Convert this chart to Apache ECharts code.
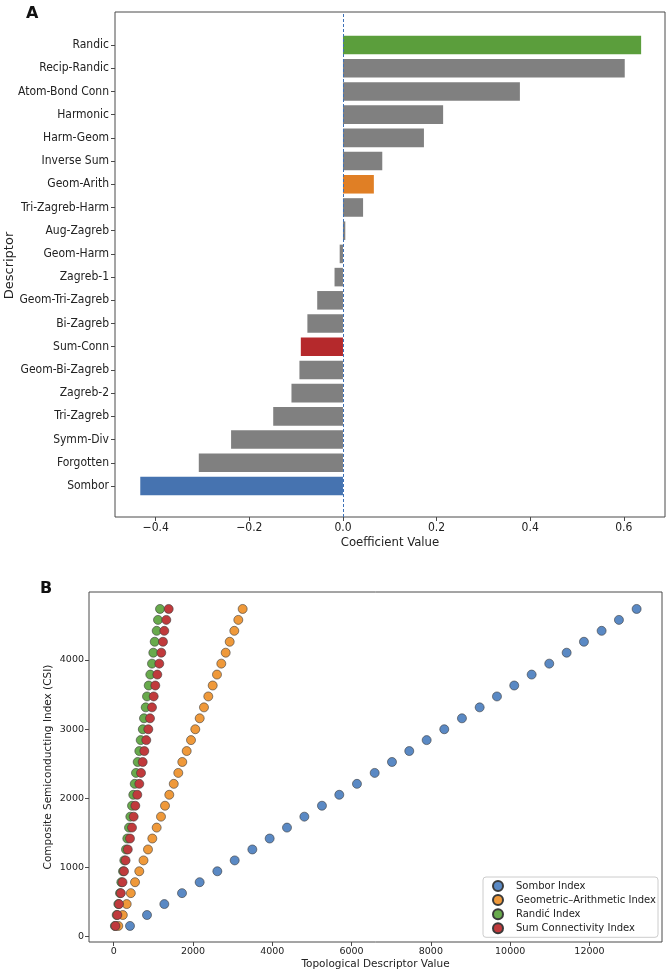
<!DOCTYPE html>
<html>
<head>
<meta charset="utf-8">
<script src="https://cdn.jsdelivr.net/npm/echarts@6/dist/echarts.min.js"></script>
<style>
html,body{margin:0;padding:0;background:#fff;}
#chart{width:667px;height:978px;}
</style>
</head>
<body>
<div id="chart"></div>
<script>
// ---------- Panel A data ----------
const descriptors = ['Randic','Recip-Randic','Atom-Bond Conn','Harmonic','Harm-Geom','Inverse Sum','Geom-Arith','Tri-Zagreb-Harm','Aug-Zagreb','Geom-Harm','Zagreb-1','Geom-Tri-Zagreb','Bi-Zagreb','Sum-Conn','Geom-Bi-Zagreb','Zagreb-2','Tri-Zagreb','Symm-Div','Forgotten','Sombor'];
const coefficients = [0.637,0.602,0.378,0.214,0.173,0.084,0.066,0.043,0.005,-0.007,-0.018,-0.055,-0.076,-0.090,-0.093,-0.110,-0.149,-0.239,-0.308,-0.433];
const coefTicks = [-0.4,-0.2,0.0,0.2,0.4,0.6];

// ---------- Panel B data ----------
const csiValues = [155,313,471,629,787,945,1102,1260,1418,1576,1734,1892,2050,2208,2366,2524,2682,2840,2997,3155,3313,3471,3629,3787,3945,4103,4261,4419,4577,4735];
const somborValues = [411,840,1277,1723,2168,2614,3052,3497,3934,4371,4809,5253,5690,6136,6583,7019,7455,7894,8338,8784,9231,9667,10103,10542,10986,11425,11861,12307,12744,13190];
const gaValues = [116,230,328,432,538,645,752,865,974,1084,1193,1294,1402,1515,1629,1730,1841,1950,2058,2169,2277,2386,2497,2605,2714,2825,2926,3042,3143,3253];
const randicValues = [30,75,116,159,192,235,267,310,343,386,419,462,494,530,562,605,646,681,734,764,807,840,883,923,966,999,1034,1084,1117,1168];
const sumConnValues = [45,92,134,180,222,260,300,355,411,462,504,545,595,646,689,731,772,822,873,916,966,1009,1049,1100,1150,1200,1243,1276,1327,1387];
const seriesNames = ['Sombor Index','Geometric\u2013Arithmetic Index','Randi\u0107 Index','Sum Connectivity Index'];
const xTicksB = [0,2000,4000,6000,8000,10000,12000];
const yTicksB = [0,1000,2000,3000,4000];

// ---------- styles ----------
const highlight = {'Randic':'#5b9e3c','Geom-Arith':'#e07f25','Sum-Conn':'#b5292c','Sombor':'#4673b0'};
const barGray = '#808080';
const scatterColors = ['#5a89c4','#ef993a','#68aa4c','#c03a3c'];
const axisColor = '#4a4a4a';
const textColor = '#222';
const fontA = '"DejaVu Sans Condensed","DejaVu Sans",sans-serif';
const fontB = '"DejaVu Sans",sans-serif';

const fmtCoef = v => (v < -1e-9 ? '\u2212' : '') + Math.abs(v).toFixed(1);
const fmtPlain = v => String(Math.round(v));

const chart = echarts.init(document.getElementById('chart'), null, {renderer:'canvas'});

const scatterData = [somborValues, gaValues, randicValues, sumConnValues];

const option = {
  animation:false,
  backgroundColor:'#fff',
  title:[
    {text:'A', left:21, top:1, textStyle:{fontFamily:fontB, fontWeight:'bold', fontSize:16, color:'#111'}},
    {text:'B', left:35, top:576, textStyle:{fontFamily:fontB, fontWeight:'bold', fontSize:16, color:'#111'}}
  ],
  grid:[
    {left:115, top:12, width:550, height:505, show:true, borderColor:axisColor, borderWidth:1, backgroundColor:'transparent', containLabel:false, outerBoundsMode:'none'},
    {left:115, top:33.4, width:550, height:464.2, show:false, containLabel:false, outerBoundsMode:'none'},
    {left:89, top:592, width:573, height:350, show:true, borderColor:axisColor, borderWidth:1, backgroundColor:'transparent', containLabel:false, outerBoundsMode:'none'}
  ],
  xAxis:[
    {gridIndex:0, type:'value', min:-0.487, max:0.688,
     name:'Coefficient Value', nameLocation:'middle', nameGap:19, nameMoveOverlap:false,
     nameTextStyle:{fontFamily:fontA, fontSize:13, color:textColor},
     axisLine:{show:false, onZero:false}, splitLine:{show:false},
     axisTick:{show:true, length:4, lineStyle:{color:axisColor}, customValues:coefTicks},
     axisLabel:{fontFamily:fontA, fontSize:12, color:textColor, margin:5, formatter:fmtCoef, customValues:coefTicks}},
    {gridIndex:1, type:'value', min:-0.487, max:0.688, show:false, axisLine:{onZero:false}},
    {gridIndex:2, type:'value', min:-623, max:13830,
     name:'Topological Descriptor Value', nameLocation:'middle', nameGap:17, nameMoveOverlap:false,
     nameTextStyle:{fontFamily:fontB, fontSize:10.5, color:textColor},
     axisLine:{show:false, onZero:false}, splitLine:{show:false},
     axisTick:{show:true, length:4, lineStyle:{color:axisColor}, customValues:xTicksB},
     axisLabel:{fontFamily:fontB, fontSize:9.5, color:textColor, margin:5, formatter:fmtPlain, customValues:xTicksB}}
  ],
  yAxis:[
    {gridIndex:0, type:'value', min:0, max:1, show:false, axisLine:{onZero:false}},
    {gridIndex:1, type:'category', inverse:true, data:descriptors,
     name:'Descriptor', nameLocation:'middle', nameGap:99, nameMoveOverlap:false,
     nameTextStyle:{fontFamily:fontB, fontSize:13, color:textColor},
     axisLine:{show:false, onZero:false}, splitLine:{show:false},
     axisTick:{show:true, length:4, alignWithLabel:true, lineStyle:{color:axisColor}},
     axisLabel:{fontFamily:fontA, fontSize:12, color:textColor, margin:6}},
    {gridIndex:2, type:'value', min:-77, max:4980,
     name:'Composite Semiconducting Index (CSI)', nameLocation:'middle', nameGap:35, nameMoveOverlap:false,
     nameTextStyle:{fontFamily:fontB, fontSize:10.5, color:textColor},
     axisLine:{show:false, onZero:false}, splitLine:{show:false},
     axisTick:{show:true, length:4, lineStyle:{color:axisColor}, customValues:yTicksB},
     axisLabel:{fontFamily:fontB, fontSize:9.5, color:textColor, margin:5, formatter:fmtPlain, customValues:yTicksB}}
  ],
  legend:{
    data:seriesNames, orient:'vertical', left:483, top:877,
    icon:'circle', itemWidth:10, itemHeight:10, itemGap:2.1,
    padding:[3,2,3,9], backgroundColor:'#fff', borderColor:'#ccc', borderWidth:1, borderRadius:3,
    textStyle:{fontFamily:fontB, fontSize:10, color:textColor, padding:[0,0,0,8]}
  },
  series:[
    {type:'bar', xAxisIndex:1, yAxisIndex:1, barWidth:'80%',
     data:descriptors.map((d,i)=>({value:coefficients[i], itemStyle:{color: highlight[d] || barGray}})),
     z:2},
    {type:'scatter', xAxisIndex:0, yAxisIndex:0, data:[], silent:true, z:5,
     markLine:{silent:true, symbol:['none','none'], label:{show:false},
       lineStyle:{color:'#3f72b8', type:[3,2], width:1}, data:[{xAxis:0}]}},
    ...seriesNames.map((n,k)=>({
      type:'scatter', name:n, xAxisIndex:2, yAxisIndex:2, symbolSize:9,
      itemStyle:{color:scatterColors[k], borderColor:'#3a3a3a', borderWidth:0.6, opacity:1},
      data: scatterData[k].map((v,i)=>[v, csiValues[i]]),
      z:3+k
    }))
  ]
};
chart.setOption(option);
</script>
</body>
</html>
